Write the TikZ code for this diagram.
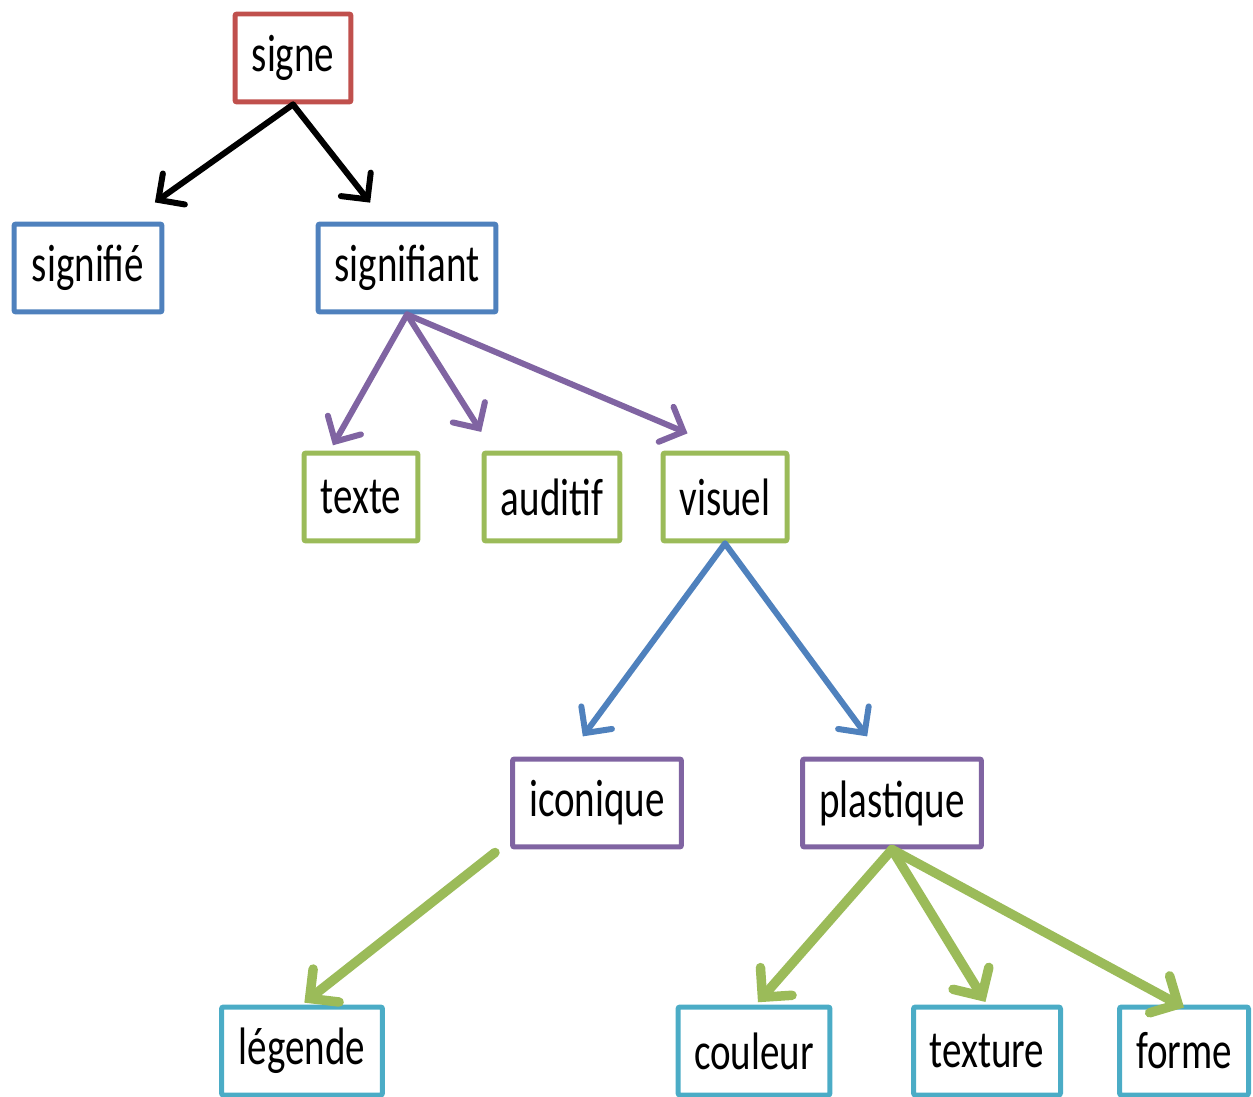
\documentclass[tikz,border=0pt]{standalone}
\usepackage{fontspec}
\setmainfont{Carlito}[FakeStretch=0.74]
\usetikzlibrary{arrows.meta,calc}
\definecolor{rouge}{HTML}{C0504D}
\definecolor{bleu}{HTML}{4F81BD}
\definecolor{vert}{HTML}{9BBB59}
\definecolor{violet}{HTML}{8064A2}
\definecolor{cyan}{HTML}{4BACC6}
\tikzset{
  boite/.style={draw=#1,line width=0.1cm,minimum height=1.76cm,inner sep=0pt,
    rounded corners=0.04cm,font=\fontsize{30}{34}\selectfont},
  fleche/.style={draw=#1,line width=0.12cm,line cap=round,
    -{Straight Barb[length=0.38cm,width=0.76cm,line cap=round]}},
  grosse/.style={draw=vert,line width=0.19cm,line cap=round,
    -{Straight Barb[length=0.42cm,width=0.84cm,line cap=round]}}
}
\begin{document}
\begin{tikzpicture}[x=0.02cm,y=-0.02cm]
\useasboundingbox (0,0) rectangle (1253,1097);
\node[boite=rouge,minimum width=2.32cm] (signe) at (293,58){signe};
\node[boite=bleu,minimum width=2.96cm] (signifie) at (88,268){signifié};
\node[boite=bleu,minimum width=3.56cm] (signifiant) at (407,268){signifiant};
\node[boite=vert,minimum width=2.28cm] (texte) at (361,497){texte};
\node[boite=vert,minimum width=2.72cm] (auditif) at (552,497){auditif};
\node[boite=vert,minimum width=2.48cm] (visuel) at (725,497){visuel};
\node[boite=violet,minimum width=3.38cm] (iconique) at (597,803){iconique};
\node[boite=violet,minimum width=3.58cm] (plastique) at (892,803){plastique};
\node[boite=cyan,minimum width=3.22cm] (legende) at (302,1051){légende};
\node[boite=cyan,minimum width=3.04cm] (couleur) at (754,1051){couleur};
\node[boite=cyan,minimum width=2.94cm] (texture) at (987,1051){texture};
\node[boite=cyan,minimum width=2.58cm] (forme) at (1184,1051){forme};
% signe
\draw[fleche=black,shorten >=0.66cm] (signe.south) -- ($(signifie.north)+(40,0)$);
\draw[fleche=black,shorten >=0.48cm] (signe.south) -- ($(signifiant.north)+(-22,0)$);
% signifiant
\draw[fleche=violet,shorten >=0.12cm] (signifiant.south) -- ($(texte.north)+(-31,0)$);
\draw[fleche=violet,shorten >=0.44cm] (signifiant.south) -- ($(auditif.north)+(-59,0)$);
\draw[fleche=violet,shorten >=0.88cm] (signifiant.south) -- ($(visuel.north)+(3,0)$);
% visuel
\draw[fleche=bleu,shorten >=0.5cm] (visuel.south) -- ($(iconique.north)+(-29,0)$);
\draw[fleche=bleu,shorten >=0.5cm] (visuel.south) -- ($(plastique.north)+(-10,0)$);
% iconique, plastique
\draw[grosse,shorten >=0.06cm] ($(iconique.south west)+(-15,3)$) -- (legende.north);
\draw[grosse,shorten >=0.06cm] (plastique.south) -- ($(couleur.north)+(2,0)$);
\draw[grosse,shorten >=0.06cm] (plastique.south) -- (texture.north);
\draw[grosse] (plastique.south) -- ($(forme.north)+(0,3)$);
\end{tikzpicture}
\end{document}
